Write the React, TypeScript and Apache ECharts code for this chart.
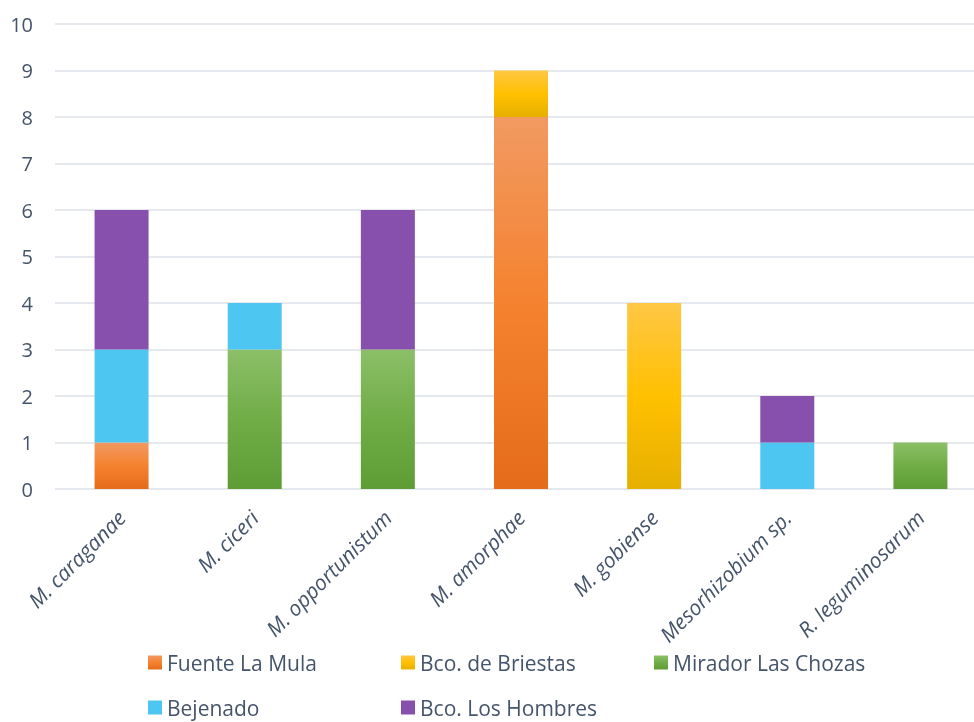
import React, { useEffect, useRef } from "react";
import * as echarts from "echarts";

const categories = [
  "M. caraganae",
  "M. ciceri",
  "M. opportunistum",
  "M. amorphae",
  "M. gobiense",
  "Mesorhizobium sp.",
  "R. leguminosarum",
];
const seriesNames = [
  "Fuente La Mula",
  "Bco. de Briestas",
  "Mirador Las Chozas",
  "Bejenado",
  "Bco. Los Hombres",
];
const legendRow1 = seriesNames.slice(0, 3);
const legendRow2 = seriesNames.slice(3);
const fuenteLaMula = [1, 0, 0, 8, 0, 0, 0];
const bcoDeBriestas = [0, 0, 0, 1, 4, 0, 0];
const miradorLasChozas = [0, 3, 3, 0, 0, 0, 1];
const bejenado = [2, 1, 0, 0, 0, 1, 0];
const bcoLosHombres = [3, 0, 3, 0, 0, 1, 0];
const yTicks = [0, 10, 1];

const grad = (top: string, mid: string, bottom: string) =>
  new echarts.graphic.LinearGradient(0, 0, 0, 1, [
    { offset: 0, color: top },
    { offset: 0.5, color: mid },
    { offset: 1, color: bottom },
  ]);

const TEXT = "#44546A";
const FONT = "'Open Sans', sans-serif";

const legendBase = (top: number, data: string[]) => ({
  left: 143,
  top,
  itemWidth: 14,
  itemHeight: 14,
  itemGap: 0,
  icon: "rect",
  textStyle: {
    color: TEXT,
    fontSize: 21,
    fontFamily: FONT,
    width: 234,
    height: 20,
    lineHeight: 20,
  },
  data,
});

export default function App() {
  const ref = useRef<HTMLDivElement>(null);
  useEffect(() => {
    if (!ref.current) return;
    const chart = echarts.init(ref.current, undefined, { renderer: "svg" });
    const colors = [
      grad("#F19A62", "#F5822F", "#E46C1A"),
      grad("#FFC745", "#FFC000", "#E6B000"),
      grad("#8CBF68", "#70AD47", "#5E9C35"),
      "#4DC7F2",
      "#8650AC",
    ];
    const values = [fuenteLaMula, bcoDeBriestas, miradorLasChozas, bejenado, bcoLosHombres];
    chart.setOption({
      animation: false,
      textStyle: { fontFamily: FONT },
      grid: {
        left: 55,
        width: 932,
        top: 24,
        bottom: 233,
        containLabel: false,
        outerBoundsMode: "none",
      },
      legend: [legendBase(647, legendRow1), legendBase(692, legendRow2)],
      xAxis: {
        type: "category",
        data: categories,
        axisLine: { show: false },
        axisTick: { show: false },
        axisLabel: {
          rotate: 45,
          interval: 0,
          margin: 25,
          color: TEXT,
          fontSize: 21,
          fontStyle: "italic",
          fontFamily: FONT,
        },
      },
      yAxis: {
        type: "value",
        min: yTicks[0],
        max: yTicks[1],
        interval: yTicks[2],
        axisLine: { show: false },
        axisTick: { show: false },
        axisLabel: { color: TEXT, fontSize: 20, margin: 22, fontFamily: FONT },
        splitLine: { lineStyle: { color: "#DDE1E6", width: 1.5 } },
      },
      series: seriesNames.map((name, i) => ({
        name,
        type: "bar",
        stack: "total",
        barWidth: 54,
        data: values[i],
        itemStyle: { color: colors[i] },
      })),
    });
    return () => chart.dispose();
  }, []);
  return (
    <div
      ref={ref}
      style={{ position: "fixed", left: 0, top: 0, width: 974, height: 722, overflow: "hidden" }}
    />
  );
}
